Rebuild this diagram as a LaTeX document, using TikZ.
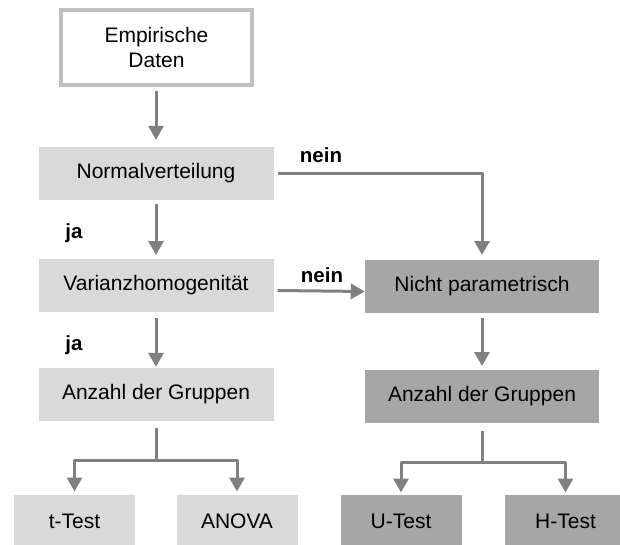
\documentclass[tikz,border=0pt]{standalone}
\usepackage{fontspec}
\setmainfont{Liberation Sans}
\usetikzlibrary{arrows.meta,positioning}
\definecolor{LightBox}{HTML}{D9D9D9}
\definecolor{DarkBox}{HTML}{A6A6A6}
\definecolor{FrameGray}{HTML}{C0C0C0}
\definecolor{ArrowGray}{HTML}{808080}
\begin{document}
\begin{tikzpicture}[x=1pt, y=-1pt,
  txt/.style={font=\fontsize{21}{25}\selectfont, inner sep=0pt, outer sep=0pt, align=center},
  light/.style={txt, fill=LightBox, minimum width=235pt, minimum height=53pt},
  dark/.style={txt, fill=DarkBox, minimum width=234.5pt, minimum height=53pt},
  small/.style={minimum width=121pt, minimum height=53pt},
  lbl/.style={font=\bfseries\fontsize{20.5}{24}\selectfont, inner sep=0pt},
  line/.style={line width=3pt, ArrowGray, line join=round},
  arr/.style={line, -{Triangle[length=14pt, width=15pt]}}
]
\path[use as bounding box, clip] (0,0) rectangle (620,545);
\node[txt, draw=FrameGray, line width=4pt, fill=white, minimum width=190.5pt, minimum height=75pt] (daten) at (156.5,47.3) {Empirische\\Daten};
\node[light] (normal) at (156,173.3) {Normalverteilung};
\node[light] (varianz) at (156,285.5) {Varianzhomogenität};
\node[light] (anzL) at (156,394.3) {Anzahl der Gruppen};
\node[dark] (nicht) at (482,286.5) {Nicht parametrisch};
\node[dark] (anzR) at (482,396.5) {Anzahl der Gruppen};
\node[light, small] (ttest) at (74.5,521) {t-Test};
\node[light, small] (anova) at (237,521) {ANOVA};
\node[dark, small] (utest) at (401,521) {U-Test};
\node[dark, small] (htest) at (565.5,521) {H-Test};
\node[lbl] (nein1) at (321,155) {nein};
\node[lbl] (nein2) at (322,275) {nein};
\node[lbl] (ja1) at (74,233) {ja};
\node[lbl] (ja2) at (74,345) {ja};
\coordinate (sL) at (156,460);
\coordinate (sR) at (482,462);
\draw[arr, shorten <=6pt, shorten >=7pt] (daten.south -| normal) -- (normal);
\draw[arr, shorten <=4pt, shorten >=4pt] (normal) -- (varianz);
\draw[arr, shorten <=6pt, shorten >=1pt] (varianz) -- (anzL);
\draw[arr, shorten >=5pt] ([xshift=4pt]normal.east) -| (nicht);
\draw[arr] ([shift={(4pt,-5pt)}]varianz.east) -- ([yshift=-5pt]nicht.west);
\draw[arr, shorten <=5pt, shorten >=4pt] (nicht) -- (anzR);
\draw[line] ([yshift=-7pt]anzL.south) -- (sL);
\draw[arr, shorten >=3pt] (sL) -| (ttest);
\draw[arr, shorten >=3pt] (sL) -| (anova);
\draw[line] ([yshift=-8pt]anzR.south) -- (sR);
\draw[arr, shorten >=2pt] (sR) -| (utest);
\draw[arr, shorten >=2pt] (sR) -| (htest);
\end{tikzpicture}
\end{document}
